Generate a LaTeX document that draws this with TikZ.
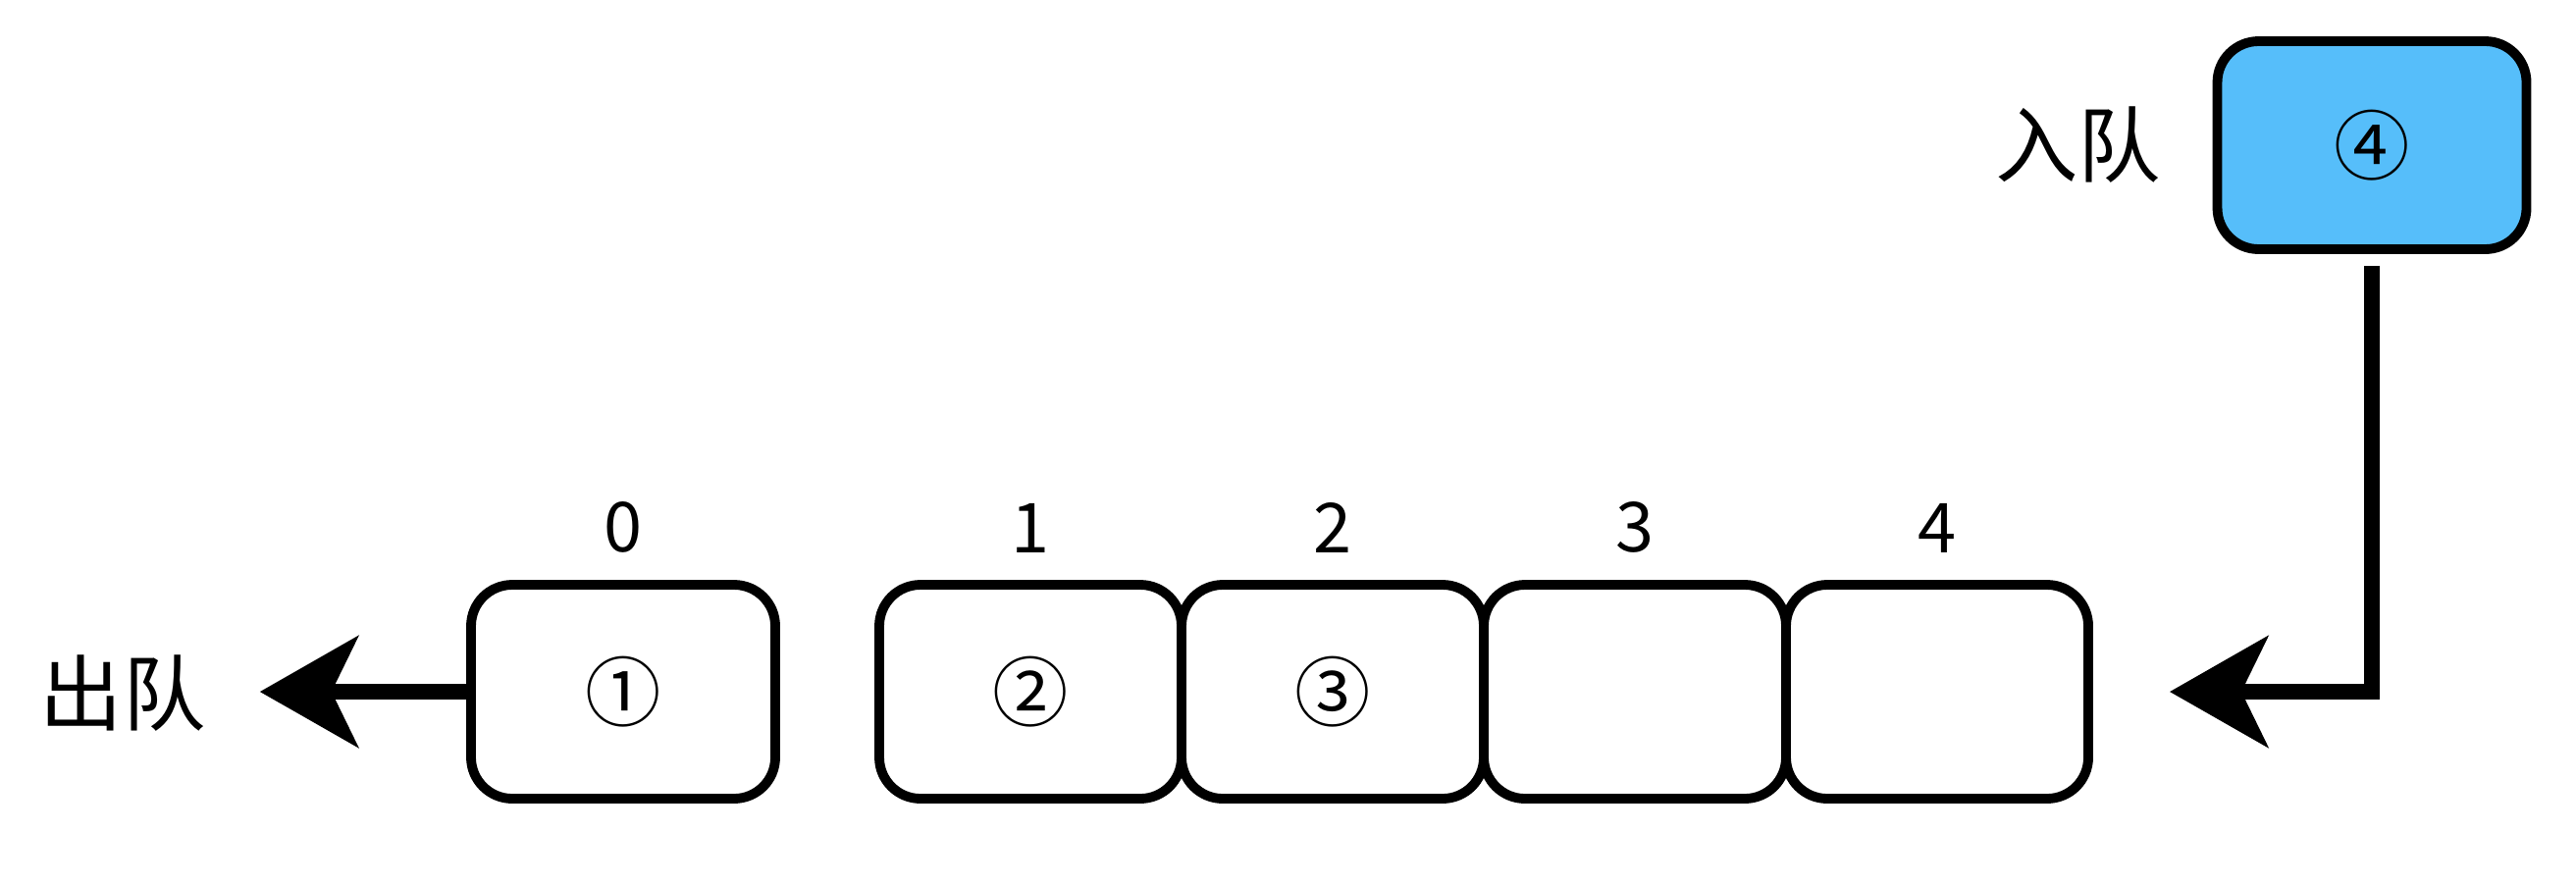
\documentclass[tikz,border=0pt]{standalone}
\usepackage{fontspec}
\setmainfont{Noto Sans CJK SC}
\usepackage{xcolor}
\usepackage{tikz}
\usetikzlibrary{arrows.meta,positioning}
\definecolor{qblue}{RGB}{86,190,250}

\begin{document}
\begin{tikzpicture}

% Queue cells with enqueue / dequeue
\tikzstyle{cell}=[rectangle, draw=black, line width=2.8pt, rounded corners=0.42cm, minimum width=3.08cm, minimum height=2.18cm, font=\fontsize{22}{26}\selectfont]
\tikzstyle{newcell}=[cell, fill=qblue, minimum width=3.15cm, minimum height=2.12cm]
\tikzstyle{idx}=[font=\fontsize{20}{24}\selectfont]
\tikzstyle{tag}=[font=\fontsize{24}{28}\selectfont]
\tikzstyle{qarrow}=[line width=4.5pt, -{Stealth[length=1cm, width=1.13cm, inset=0.27cm]}]

\useasboundingbox (0,0) rectangle (26.25,-9);

% Array cells
\node[cell, minimum width=3.1cm] (b0) at (6.35,-7.05) {①};
\node[cell] (b1) at (10.5,-7.05) {②};
\node[cell] (b2) at (13.58,-7.05) {③};
\node[cell] (b3) at (16.66,-7.05) {};
\node[cell] (b4) at (19.74,-7.05) {};

% Element to enqueue
\node[newcell] (enq) at (24.17,-1.48) {④};

% Indices
\node[idx, above=0.15cm of b0] (i0) {0};
\node[idx, above=0.15cm of b1] (i1) {1};
\node[idx, above=0.15cm of b2] (i2) {2};
\node[idx, above=0.15cm of b3] (i3) {3};
\node[idx, above=0.15cm of b4] (i4) {4};

% Labels
\node[tag] (outtxt) at (1.25,-7.07) {出队};
\node[tag, left=0.4cm of enq] (intxt) {入队};

% Arrows
\draw[qarrow, shorten >=0.43cm] (b0.west) -- (b0.west -| outtxt.east);
\draw[qarrow, shorten <=0.12cm, shorten >=0.78cm] (enq.south) |- (b4.east);

\end{tikzpicture}
\end{document}
